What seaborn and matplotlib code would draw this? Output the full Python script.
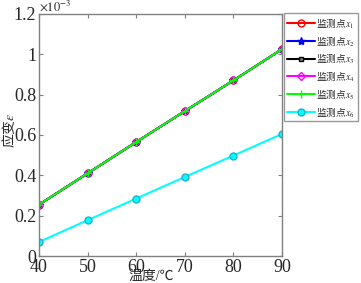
import matplotlib
matplotlib.use("Agg")
import matplotlib.pyplot as plt
import seaborn as sns
import pandas as pd
from matplotlib.ticker import FuncFormatter
from matplotlib.font_manager import FontProperties

temps = [40, 50, 60, 70, 80, 90]
x1 = [0.255e-3, 0.410e-3, 0.565e-3, 0.718e-3, 0.870e-3, 1.025e-3]
x2 = [0.255e-3, 0.410e-3, 0.565e-3, 0.718e-3, 0.870e-3, 1.025e-3]
x3 = [0.255e-3, 0.410e-3, 0.565e-3, 0.718e-3, 0.870e-3, 1.025e-3]
x4 = [0.255e-3, 0.410e-3, 0.565e-3, 0.718e-3, 0.870e-3, 1.025e-3]
x5 = [0.255e-3, 0.410e-3, 0.565e-3, 0.718e-3, 0.870e-3, 1.025e-3]
x6 = [0.070e-3, 0.178e-3, 0.285e-3, 0.392e-3, 0.498e-3, 0.605e-3]
series_names = ["监测点$x_1$", "监测点$x_2$", "监测点$x_3$", "监测点$x_4$", "监测点$x_5$", "监测点$x_6$"]
series_vals = [x1, x2, x3, x4, x5, x6]
xticks = [40, 50, 60, 70, 80, 90]
yticks = [0, 0.2e-3, 0.4e-3, 0.6e-3, 0.8e-3, 1.0e-3, 1.2e-3]

sns.set_style("white")
plt.rcParams['font.family'] = ['Liberation Serif', 'Noto Sans CJK SC']
plt.rcParams['mathtext.fontset'] = 'stix'

styles = [
    dict(color='#ff0000', marker='o', mfc='none', mec='#ff0000', ms=5),
    dict(color='#0000ff', marker='*', mfc='#0000ff', mec='#0000ff', ms=6),
    dict(color='#000000', marker='s', mfc='#808080', mec='#000000', ms=3.5),
    dict(color='#ff00ff', marker='D', mfc='none', mec='#ff00ff', ms=4),
    dict(color='#00ff00', marker='+', mfc='#00ff00', mec='#00ff00', ms=6),
    dict(color='#00ffff', marker='o', mfc='#00ffff', mec='#20b0d0', ms=5),
]

fig = plt.figure(figsize=(3.61, 2.83), dpi=100)
ax = fig.add_axes([0.108, 0.095, 0.673, 0.856])

for name, vals, st in zip(series_names, series_vals, styles):
    df = pd.DataFrame({"t": temps, "v": vals})
    sns.lineplot(data=df, x="t", y="v", ax=ax, color=st['color'], marker=st['marker'],
                 markerfacecolor=st['mfc'], markeredgecolor=st['mec'], markersize=st['ms'],
                 markeredgewidth=1.0, linewidth=1.5, label=name)

ax.set_xlim(40, 90)
ax.set_ylim(0, 1.2e-3)
ax.set_xticks(xticks)
ax.set_yticks(yticks)
ax.yaxis.set_major_formatter(FuncFormatter(lambda v, p: "%g" % round(v * 1e3, 3)))
ax.tick_params(direction='in', length=3, color='#808080', labelsize=13, pad=2,
               top=True, right=True, bottom=True, left=True)
for s in ax.spines.values():
    s.set_color('#808080')
    s.set_linewidth(1.0)

ax.text(0.0, 1.0, r"$\times10^{-3}$", transform=ax.transAxes, fontsize=9,
        ha='left', va='bottom')
ax.set_xlabel("")
ax.set_ylabel("")
fig.text(0.42, 0.002, "温度/℃", fontsize=10, ha='center', va='bottom',
         family=['Liberation Serif', 'Noto Sans CJK SC'])
fig.text(0.002, 0.54, "应变$\\varepsilon$", fontsize=10, ha='left', va='center',
         rotation=90, family=['Noto Sans CJK SC'])

leg = ax.legend(loc='upper left', bbox_to_anchor=(1.01, 1.003),
                prop=FontProperties(family='Noto Sans CJK SC', size=7),
                frameon=True, fancybox=False, handlelength=2.8, handletextpad=0.2,
                borderpad=0.3, labelspacing=0.38, borderaxespad=0.0)
leg.get_frame().set_edgecolor('#808080')
leg.get_frame().set_linewidth(1.0)

fig.savefig("out.png", dpi=100)
